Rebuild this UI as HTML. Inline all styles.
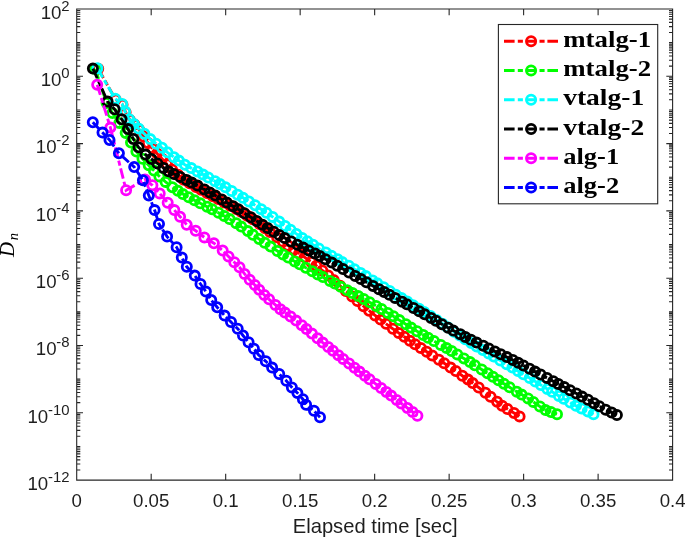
<!DOCTYPE html>
<html><head><meta charset="utf-8"><title>chart</title>
<style>html,body{margin:0;padding:0;background:#fff}svg{display:block;will-change:transform}</style></head>
<body>
<svg width="685" height="538" viewBox="0 0 685 538" style="font-family:'Liberation Sans',sans-serif">
<rect x="0" y="0" width="685" height="538" fill="#fff"/>
<g fill="none" stroke="#ff0000" stroke-width="2.8">
<path d="M98.2 68.8 L115.6 99.4 L122.5 104.8 L125.6 112.2 L129.8 119.9 L134.4 124.6 L139.0 129.6 L143.5 136.5 L148.0 143.0 L152.5 148.5 L157.0 153.5 L162.0 158.8 L167.0 164.2 L172.0 169.5 L178.0 174.8 L183.7 179.7 L189.7 183.3 L196.0 186.9 L201.1 189.7 L207.0 192.9 L212.9 196.2 L218.1 199.0 L224.3 202.4 L230.3 205.7 L236.3 209.1 L241.1 211.8 L247.2 215.8 L252.7 219.3 L259.5 223.9 L265.1 228.2 L270.0 231.9 L277.1 237.3 L282.9 241.7 L288.2 245.7 L294.0 249.8 L299.1 253.4 L304.7 257.3 L311.2 262.0 L316.3 265.7 L322.3 270.5 L328.2 275.4 L333.7 280.0 L340.1 285.8 L345.8 291.0 L352.2 296.6 L357.5 301.1 L363.5 306.2 L369.1 310.7 L375.1 315.4 L380.6 319.6 L386.1 323.8 L392.9 328.8 L398.7 332.9 L404.3 336.8 L409.9 340.7 L415.1 344.2 L420.8 347.9 L426.7 351.8 L432.2 355.4 L438.9 359.8 L444.2 363.3 L450.6 367.6 L455.8 371.0 L462.3 375.7 L468.0 379.6 L472.6 383.0 L478.7 387.5 L485.4 392.8 L490.6 396.8 L497.1 401.8 L502.1 405.7 L507.4 409.0 L514.0 413.0 L519.6 416.4" stroke-width="2.9" stroke-dasharray="10.6,3.2,5.1,2.8"/>
<path d="M93.6 68.8a4.6 4.6 0 1 0 9.2 0a4.6 4.6 0 1 0 -9.2 0M111.0 99.4a4.6 4.6 0 1 0 9.2 0a4.6 4.6 0 1 0 -9.2 0M117.9 104.8a4.6 4.6 0 1 0 9.2 0a4.6 4.6 0 1 0 -9.2 0M121.0 112.2a4.6 4.6 0 1 0 9.2 0a4.6 4.6 0 1 0 -9.2 0M125.2 119.9a4.6 4.6 0 1 0 9.2 0a4.6 4.6 0 1 0 -9.2 0M129.8 124.6a4.6 4.6 0 1 0 9.2 0a4.6 4.6 0 1 0 -9.2 0M134.4 129.6a4.6 4.6 0 1 0 9.2 0a4.6 4.6 0 1 0 -9.2 0M138.9 136.5a4.6 4.6 0 1 0 9.2 0a4.6 4.6 0 1 0 -9.2 0M143.4 143.0a4.6 4.6 0 1 0 9.2 0a4.6 4.6 0 1 0 -9.2 0M147.9 148.5a4.6 4.6 0 1 0 9.2 0a4.6 4.6 0 1 0 -9.2 0M152.4 153.5a4.6 4.6 0 1 0 9.2 0a4.6 4.6 0 1 0 -9.2 0M157.4 158.8a4.6 4.6 0 1 0 9.2 0a4.6 4.6 0 1 0 -9.2 0M162.4 164.2a4.6 4.6 0 1 0 9.2 0a4.6 4.6 0 1 0 -9.2 0M167.4 169.5a4.6 4.6 0 1 0 9.2 0a4.6 4.6 0 1 0 -9.2 0M173.4 174.8a4.6 4.6 0 1 0 9.2 0a4.6 4.6 0 1 0 -9.2 0M179.1 179.7a4.6 4.6 0 1 0 9.2 0a4.6 4.6 0 1 0 -9.2 0M185.1 183.3a4.6 4.6 0 1 0 9.2 0a4.6 4.6 0 1 0 -9.2 0M191.4 186.9a4.6 4.6 0 1 0 9.2 0a4.6 4.6 0 1 0 -9.2 0M196.5 189.7a4.6 4.6 0 1 0 9.2 0a4.6 4.6 0 1 0 -9.2 0M202.4 192.9a4.6 4.6 0 1 0 9.2 0a4.6 4.6 0 1 0 -9.2 0M208.3 196.2a4.6 4.6 0 1 0 9.2 0a4.6 4.6 0 1 0 -9.2 0M213.5 199.0a4.6 4.6 0 1 0 9.2 0a4.6 4.6 0 1 0 -9.2 0M219.7 202.4a4.6 4.6 0 1 0 9.2 0a4.6 4.6 0 1 0 -9.2 0M225.7 205.7a4.6 4.6 0 1 0 9.2 0a4.6 4.6 0 1 0 -9.2 0M231.7 209.1a4.6 4.6 0 1 0 9.2 0a4.6 4.6 0 1 0 -9.2 0M236.5 211.8a4.6 4.6 0 1 0 9.2 0a4.6 4.6 0 1 0 -9.2 0M242.6 215.8a4.6 4.6 0 1 0 9.2 0a4.6 4.6 0 1 0 -9.2 0M248.1 219.3a4.6 4.6 0 1 0 9.2 0a4.6 4.6 0 1 0 -9.2 0M254.9 223.9a4.6 4.6 0 1 0 9.2 0a4.6 4.6 0 1 0 -9.2 0M260.5 228.2a4.6 4.6 0 1 0 9.2 0a4.6 4.6 0 1 0 -9.2 0M265.4 231.9a4.6 4.6 0 1 0 9.2 0a4.6 4.6 0 1 0 -9.2 0M272.5 237.3a4.6 4.6 0 1 0 9.2 0a4.6 4.6 0 1 0 -9.2 0M278.3 241.7a4.6 4.6 0 1 0 9.2 0a4.6 4.6 0 1 0 -9.2 0M283.6 245.7a4.6 4.6 0 1 0 9.2 0a4.6 4.6 0 1 0 -9.2 0M289.4 249.8a4.6 4.6 0 1 0 9.2 0a4.6 4.6 0 1 0 -9.2 0M294.5 253.4a4.6 4.6 0 1 0 9.2 0a4.6 4.6 0 1 0 -9.2 0M300.1 257.3a4.6 4.6 0 1 0 9.2 0a4.6 4.6 0 1 0 -9.2 0M306.6 262.0a4.6 4.6 0 1 0 9.2 0a4.6 4.6 0 1 0 -9.2 0M311.7 265.7a4.6 4.6 0 1 0 9.2 0a4.6 4.6 0 1 0 -9.2 0M317.7 270.5a4.6 4.6 0 1 0 9.2 0a4.6 4.6 0 1 0 -9.2 0M323.6 275.4a4.6 4.6 0 1 0 9.2 0a4.6 4.6 0 1 0 -9.2 0M329.1 280.0a4.6 4.6 0 1 0 9.2 0a4.6 4.6 0 1 0 -9.2 0M335.5 285.8a4.6 4.6 0 1 0 9.2 0a4.6 4.6 0 1 0 -9.2 0M341.2 291.0a4.6 4.6 0 1 0 9.2 0a4.6 4.6 0 1 0 -9.2 0M347.6 296.6a4.6 4.6 0 1 0 9.2 0a4.6 4.6 0 1 0 -9.2 0M352.9 301.1a4.6 4.6 0 1 0 9.2 0a4.6 4.6 0 1 0 -9.2 0M358.9 306.2a4.6 4.6 0 1 0 9.2 0a4.6 4.6 0 1 0 -9.2 0M364.5 310.7a4.6 4.6 0 1 0 9.2 0a4.6 4.6 0 1 0 -9.2 0M370.5 315.4a4.6 4.6 0 1 0 9.2 0a4.6 4.6 0 1 0 -9.2 0M376.0 319.6a4.6 4.6 0 1 0 9.2 0a4.6 4.6 0 1 0 -9.2 0M381.5 323.8a4.6 4.6 0 1 0 9.2 0a4.6 4.6 0 1 0 -9.2 0M388.3 328.8a4.6 4.6 0 1 0 9.2 0a4.6 4.6 0 1 0 -9.2 0M394.1 332.9a4.6 4.6 0 1 0 9.2 0a4.6 4.6 0 1 0 -9.2 0M399.7 336.8a4.6 4.6 0 1 0 9.2 0a4.6 4.6 0 1 0 -9.2 0M405.3 340.7a4.6 4.6 0 1 0 9.2 0a4.6 4.6 0 1 0 -9.2 0M410.5 344.2a4.6 4.6 0 1 0 9.2 0a4.6 4.6 0 1 0 -9.2 0M416.2 347.9a4.6 4.6 0 1 0 9.2 0a4.6 4.6 0 1 0 -9.2 0M422.1 351.8a4.6 4.6 0 1 0 9.2 0a4.6 4.6 0 1 0 -9.2 0M427.6 355.4a4.6 4.6 0 1 0 9.2 0a4.6 4.6 0 1 0 -9.2 0M434.3 359.8a4.6 4.6 0 1 0 9.2 0a4.6 4.6 0 1 0 -9.2 0M439.6 363.3a4.6 4.6 0 1 0 9.2 0a4.6 4.6 0 1 0 -9.2 0M446.0 367.6a4.6 4.6 0 1 0 9.2 0a4.6 4.6 0 1 0 -9.2 0M451.2 371.0a4.6 4.6 0 1 0 9.2 0a4.6 4.6 0 1 0 -9.2 0M457.7 375.7a4.6 4.6 0 1 0 9.2 0a4.6 4.6 0 1 0 -9.2 0M463.4 379.6a4.6 4.6 0 1 0 9.2 0a4.6 4.6 0 1 0 -9.2 0M468.0 383.0a4.6 4.6 0 1 0 9.2 0a4.6 4.6 0 1 0 -9.2 0M474.1 387.5a4.6 4.6 0 1 0 9.2 0a4.6 4.6 0 1 0 -9.2 0M480.8 392.8a4.6 4.6 0 1 0 9.2 0a4.6 4.6 0 1 0 -9.2 0M486.0 396.8a4.6 4.6 0 1 0 9.2 0a4.6 4.6 0 1 0 -9.2 0M492.5 401.8a4.6 4.6 0 1 0 9.2 0a4.6 4.6 0 1 0 -9.2 0M497.5 405.7a4.6 4.6 0 1 0 9.2 0a4.6 4.6 0 1 0 -9.2 0M502.8 409.0a4.6 4.6 0 1 0 9.2 0a4.6 4.6 0 1 0 -9.2 0M509.4 413.0a4.6 4.6 0 1 0 9.2 0a4.6 4.6 0 1 0 -9.2 0M515.0 416.4a4.6 4.6 0 1 0 9.2 0a4.6 4.6 0 1 0 -9.2 0"/>
</g>
<g fill="none" stroke="#00ff00" stroke-width="2.8">
<path d="M95.2 68.9 L106.6 103.0 L112.4 113.0 L119.3 122.9 L125.7 132.9 L131.0 142.5 L136.4 151.5 L142.5 158.8 L148.7 165.2 L153.9 170.6 L159.4 176.4 L165.6 181.9 L172.3 187.2 L177.9 190.8 L182.8 194.0 L188.8 197.3 L194.5 200.3 L200.3 203.3 L207.1 206.8 L212.1 209.3 L218.5 212.8 L224.2 215.9 L229.6 219.1 L236.2 223.3 L241.2 226.6 L247.8 231.1 L252.9 234.7 L259.1 239.0 L264.7 242.7 L270.6 246.6 L277.4 251.0 L283.0 254.4 L288.2 257.5 L294.8 261.4 L299.7 264.2 L305.8 267.7 L312.3 271.3 L317.8 274.4 L322.9 277.1 L330.0 281.0 L334.8 283.5 L340.7 286.7 L347.2 290.2 L352.4 293.0 L358.2 296.1 L363.7 299.0 L369.6 302.2 L376.1 305.9 L381.5 309.0 L387.8 312.9 L393.4 316.3 L399.3 320.1 L405.9 324.3 L411.0 327.6 L417.0 331.2 L423.2 334.9 L428.1 337.7 L433.9 341.0 L440.8 344.9 L446.5 348.1 L451.6 351.0 L457.3 354.4 L463.9 358.4 L470.0 362.1 L474.8 365.2 L481.7 369.5 L487.5 373.2 L492.9 376.7 L498.5 380.3 L503.9 383.7 L509.6 387.3 L516.8 391.7 L521.6 394.6 L528.1 398.5 L533.3 401.9 L539.9 406.5 L545.5 410.1 L550.9 412.0 L557.0 414.2" stroke-width="2.9" stroke-dasharray="10.6,3.2,5.1,2.8"/>
<path d="M90.6 68.9a4.6 4.6 0 1 0 9.2 0a4.6 4.6 0 1 0 -9.2 0M102.0 103.0a4.6 4.6 0 1 0 9.2 0a4.6 4.6 0 1 0 -9.2 0M107.8 113.0a4.6 4.6 0 1 0 9.2 0a4.6 4.6 0 1 0 -9.2 0M114.7 122.9a4.6 4.6 0 1 0 9.2 0a4.6 4.6 0 1 0 -9.2 0M121.1 132.9a4.6 4.6 0 1 0 9.2 0a4.6 4.6 0 1 0 -9.2 0M126.4 142.5a4.6 4.6 0 1 0 9.2 0a4.6 4.6 0 1 0 -9.2 0M131.8 151.5a4.6 4.6 0 1 0 9.2 0a4.6 4.6 0 1 0 -9.2 0M137.9 158.8a4.6 4.6 0 1 0 9.2 0a4.6 4.6 0 1 0 -9.2 0M144.1 165.2a4.6 4.6 0 1 0 9.2 0a4.6 4.6 0 1 0 -9.2 0M149.3 170.6a4.6 4.6 0 1 0 9.2 0a4.6 4.6 0 1 0 -9.2 0M154.8 176.4a4.6 4.6 0 1 0 9.2 0a4.6 4.6 0 1 0 -9.2 0M161.0 181.9a4.6 4.6 0 1 0 9.2 0a4.6 4.6 0 1 0 -9.2 0M167.7 187.2a4.6 4.6 0 1 0 9.2 0a4.6 4.6 0 1 0 -9.2 0M173.3 190.8a4.6 4.6 0 1 0 9.2 0a4.6 4.6 0 1 0 -9.2 0M178.2 194.0a4.6 4.6 0 1 0 9.2 0a4.6 4.6 0 1 0 -9.2 0M184.2 197.3a4.6 4.6 0 1 0 9.2 0a4.6 4.6 0 1 0 -9.2 0M189.9 200.3a4.6 4.6 0 1 0 9.2 0a4.6 4.6 0 1 0 -9.2 0M195.7 203.3a4.6 4.6 0 1 0 9.2 0a4.6 4.6 0 1 0 -9.2 0M202.5 206.8a4.6 4.6 0 1 0 9.2 0a4.6 4.6 0 1 0 -9.2 0M207.5 209.3a4.6 4.6 0 1 0 9.2 0a4.6 4.6 0 1 0 -9.2 0M213.9 212.8a4.6 4.6 0 1 0 9.2 0a4.6 4.6 0 1 0 -9.2 0M219.6 215.9a4.6 4.6 0 1 0 9.2 0a4.6 4.6 0 1 0 -9.2 0M225.0 219.1a4.6 4.6 0 1 0 9.2 0a4.6 4.6 0 1 0 -9.2 0M231.6 223.3a4.6 4.6 0 1 0 9.2 0a4.6 4.6 0 1 0 -9.2 0M236.6 226.6a4.6 4.6 0 1 0 9.2 0a4.6 4.6 0 1 0 -9.2 0M243.2 231.1a4.6 4.6 0 1 0 9.2 0a4.6 4.6 0 1 0 -9.2 0M248.3 234.7a4.6 4.6 0 1 0 9.2 0a4.6 4.6 0 1 0 -9.2 0M254.5 239.0a4.6 4.6 0 1 0 9.2 0a4.6 4.6 0 1 0 -9.2 0M260.1 242.7a4.6 4.6 0 1 0 9.2 0a4.6 4.6 0 1 0 -9.2 0M266.0 246.6a4.6 4.6 0 1 0 9.2 0a4.6 4.6 0 1 0 -9.2 0M272.8 251.0a4.6 4.6 0 1 0 9.2 0a4.6 4.6 0 1 0 -9.2 0M278.4 254.4a4.6 4.6 0 1 0 9.2 0a4.6 4.6 0 1 0 -9.2 0M283.6 257.5a4.6 4.6 0 1 0 9.2 0a4.6 4.6 0 1 0 -9.2 0M290.2 261.4a4.6 4.6 0 1 0 9.2 0a4.6 4.6 0 1 0 -9.2 0M295.1 264.2a4.6 4.6 0 1 0 9.2 0a4.6 4.6 0 1 0 -9.2 0M301.2 267.7a4.6 4.6 0 1 0 9.2 0a4.6 4.6 0 1 0 -9.2 0M307.7 271.3a4.6 4.6 0 1 0 9.2 0a4.6 4.6 0 1 0 -9.2 0M313.2 274.4a4.6 4.6 0 1 0 9.2 0a4.6 4.6 0 1 0 -9.2 0M318.3 277.1a4.6 4.6 0 1 0 9.2 0a4.6 4.6 0 1 0 -9.2 0M325.4 281.0a4.6 4.6 0 1 0 9.2 0a4.6 4.6 0 1 0 -9.2 0M330.2 283.5a4.6 4.6 0 1 0 9.2 0a4.6 4.6 0 1 0 -9.2 0M336.1 286.7a4.6 4.6 0 1 0 9.2 0a4.6 4.6 0 1 0 -9.2 0M342.6 290.2a4.6 4.6 0 1 0 9.2 0a4.6 4.6 0 1 0 -9.2 0M347.8 293.0a4.6 4.6 0 1 0 9.2 0a4.6 4.6 0 1 0 -9.2 0M353.6 296.1a4.6 4.6 0 1 0 9.2 0a4.6 4.6 0 1 0 -9.2 0M359.1 299.0a4.6 4.6 0 1 0 9.2 0a4.6 4.6 0 1 0 -9.2 0M365.0 302.2a4.6 4.6 0 1 0 9.2 0a4.6 4.6 0 1 0 -9.2 0M371.5 305.9a4.6 4.6 0 1 0 9.2 0a4.6 4.6 0 1 0 -9.2 0M376.9 309.0a4.6 4.6 0 1 0 9.2 0a4.6 4.6 0 1 0 -9.2 0M383.2 312.9a4.6 4.6 0 1 0 9.2 0a4.6 4.6 0 1 0 -9.2 0M388.8 316.3a4.6 4.6 0 1 0 9.2 0a4.6 4.6 0 1 0 -9.2 0M394.7 320.1a4.6 4.6 0 1 0 9.2 0a4.6 4.6 0 1 0 -9.2 0M401.3 324.3a4.6 4.6 0 1 0 9.2 0a4.6 4.6 0 1 0 -9.2 0M406.4 327.6a4.6 4.6 0 1 0 9.2 0a4.6 4.6 0 1 0 -9.2 0M412.4 331.2a4.6 4.6 0 1 0 9.2 0a4.6 4.6 0 1 0 -9.2 0M418.6 334.9a4.6 4.6 0 1 0 9.2 0a4.6 4.6 0 1 0 -9.2 0M423.5 337.7a4.6 4.6 0 1 0 9.2 0a4.6 4.6 0 1 0 -9.2 0M429.3 341.0a4.6 4.6 0 1 0 9.2 0a4.6 4.6 0 1 0 -9.2 0M436.2 344.9a4.6 4.6 0 1 0 9.2 0a4.6 4.6 0 1 0 -9.2 0M441.9 348.1a4.6 4.6 0 1 0 9.2 0a4.6 4.6 0 1 0 -9.2 0M447.0 351.0a4.6 4.6 0 1 0 9.2 0a4.6 4.6 0 1 0 -9.2 0M452.7 354.4a4.6 4.6 0 1 0 9.2 0a4.6 4.6 0 1 0 -9.2 0M459.3 358.4a4.6 4.6 0 1 0 9.2 0a4.6 4.6 0 1 0 -9.2 0M465.4 362.1a4.6 4.6 0 1 0 9.2 0a4.6 4.6 0 1 0 -9.2 0M470.2 365.2a4.6 4.6 0 1 0 9.2 0a4.6 4.6 0 1 0 -9.2 0M477.1 369.5a4.6 4.6 0 1 0 9.2 0a4.6 4.6 0 1 0 -9.2 0M482.9 373.2a4.6 4.6 0 1 0 9.2 0a4.6 4.6 0 1 0 -9.2 0M488.3 376.7a4.6 4.6 0 1 0 9.2 0a4.6 4.6 0 1 0 -9.2 0M493.9 380.3a4.6 4.6 0 1 0 9.2 0a4.6 4.6 0 1 0 -9.2 0M499.3 383.7a4.6 4.6 0 1 0 9.2 0a4.6 4.6 0 1 0 -9.2 0M505.0 387.3a4.6 4.6 0 1 0 9.2 0a4.6 4.6 0 1 0 -9.2 0M512.2 391.7a4.6 4.6 0 1 0 9.2 0a4.6 4.6 0 1 0 -9.2 0M517.0 394.6a4.6 4.6 0 1 0 9.2 0a4.6 4.6 0 1 0 -9.2 0M523.5 398.5a4.6 4.6 0 1 0 9.2 0a4.6 4.6 0 1 0 -9.2 0M528.7 401.9a4.6 4.6 0 1 0 9.2 0a4.6 4.6 0 1 0 -9.2 0M535.3 406.5a4.6 4.6 0 1 0 9.2 0a4.6 4.6 0 1 0 -9.2 0M540.9 410.1a4.6 4.6 0 1 0 9.2 0a4.6 4.6 0 1 0 -9.2 0M546.3 412.0a4.6 4.6 0 1 0 9.2 0a4.6 4.6 0 1 0 -9.2 0M552.4 414.2a4.6 4.6 0 1 0 9.2 0a4.6 4.6 0 1 0 -9.2 0"/>
</g>
<g fill="none" stroke="#00ffff" stroke-width="2.8">
<path d="M97.4 68.3 L115.2 98.8 L122.2 104.0 L125.1 111.6 L129.2 119.2 L133.9 123.9 L138.5 128.6 L144.4 133.8 L150.2 139.1 L156.1 143.7 L162.0 147.8 L167.4 152.3 L174.0 157.2 L178.9 160.6 L184.9 164.7 L191.2 168.1 L197.5 171.4 L203.0 174.5 L208.3 177.5 L215.1 181.3 L219.9 184.1 L225.5 187.3 L231.6 191.0 L237.7 194.7 L243.0 197.8 L249.0 201.5 L255.1 205.3 L261.2 209.3 L266.4 212.7 L272.6 216.9 L279.2 221.6 L285.1 225.9 L290.5 229.8 L296.4 233.9 L302.1 237.9 L307.3 241.3 L313.0 244.8 L318.8 248.5 L325.8 252.5 L331.4 255.7 L337.6 259.3 L342.1 261.9 L348.8 265.8 L354.4 269.2 L360.6 272.9 L365.8 276.1 L372.6 280.4 L377.2 283.2 L383.6 287.2 L389.7 291.0 L395.8 294.7 L401.4 298.1 L407.2 301.6 L413.1 305.2 L419.1 308.8 L424.2 311.9 L430.5 315.9 L436.6 319.9 L442.4 323.8 L447.6 327.3 L454.0 331.7 L459.9 335.6 L465.3 339.2 L471.2 343.0 L476.7 346.4 L482.8 350.1 L488.7 353.6 L493.8 356.6 L500.4 360.5 L506.7 364.2 L512.4 367.6 L518.0 371.0 L523.4 374.2 L529.7 378.1 L535.3 381.5 L540.9 385.0 L547.3 388.9 L552.1 391.8 L558.9 395.9 L563.7 398.7 L570.3 402.6 L576.0 405.7 L581.5 408.4 L587.9 411.5 L593.5 414.2" stroke-width="2.9" stroke-dasharray="10.6,3.2,5.1,2.8"/>
<path d="M92.8 68.3a4.6 4.6 0 1 0 9.2 0a4.6 4.6 0 1 0 -9.2 0M110.6 98.8a4.6 4.6 0 1 0 9.2 0a4.6 4.6 0 1 0 -9.2 0M117.6 104.0a4.6 4.6 0 1 0 9.2 0a4.6 4.6 0 1 0 -9.2 0M120.5 111.6a4.6 4.6 0 1 0 9.2 0a4.6 4.6 0 1 0 -9.2 0M124.6 119.2a4.6 4.6 0 1 0 9.2 0a4.6 4.6 0 1 0 -9.2 0M129.3 123.9a4.6 4.6 0 1 0 9.2 0a4.6 4.6 0 1 0 -9.2 0M133.9 128.6a4.6 4.6 0 1 0 9.2 0a4.6 4.6 0 1 0 -9.2 0M139.8 133.8a4.6 4.6 0 1 0 9.2 0a4.6 4.6 0 1 0 -9.2 0M145.6 139.1a4.6 4.6 0 1 0 9.2 0a4.6 4.6 0 1 0 -9.2 0M151.5 143.7a4.6 4.6 0 1 0 9.2 0a4.6 4.6 0 1 0 -9.2 0M157.4 147.8a4.6 4.6 0 1 0 9.2 0a4.6 4.6 0 1 0 -9.2 0M162.8 152.3a4.6 4.6 0 1 0 9.2 0a4.6 4.6 0 1 0 -9.2 0M169.4 157.2a4.6 4.6 0 1 0 9.2 0a4.6 4.6 0 1 0 -9.2 0M174.3 160.6a4.6 4.6 0 1 0 9.2 0a4.6 4.6 0 1 0 -9.2 0M180.3 164.7a4.6 4.6 0 1 0 9.2 0a4.6 4.6 0 1 0 -9.2 0M186.6 168.1a4.6 4.6 0 1 0 9.2 0a4.6 4.6 0 1 0 -9.2 0M192.9 171.4a4.6 4.6 0 1 0 9.2 0a4.6 4.6 0 1 0 -9.2 0M198.4 174.5a4.6 4.6 0 1 0 9.2 0a4.6 4.6 0 1 0 -9.2 0M203.7 177.5a4.6 4.6 0 1 0 9.2 0a4.6 4.6 0 1 0 -9.2 0M210.5 181.3a4.6 4.6 0 1 0 9.2 0a4.6 4.6 0 1 0 -9.2 0M215.3 184.1a4.6 4.6 0 1 0 9.2 0a4.6 4.6 0 1 0 -9.2 0M220.9 187.3a4.6 4.6 0 1 0 9.2 0a4.6 4.6 0 1 0 -9.2 0M227.0 191.0a4.6 4.6 0 1 0 9.2 0a4.6 4.6 0 1 0 -9.2 0M233.1 194.7a4.6 4.6 0 1 0 9.2 0a4.6 4.6 0 1 0 -9.2 0M238.4 197.8a4.6 4.6 0 1 0 9.2 0a4.6 4.6 0 1 0 -9.2 0M244.4 201.5a4.6 4.6 0 1 0 9.2 0a4.6 4.6 0 1 0 -9.2 0M250.5 205.3a4.6 4.6 0 1 0 9.2 0a4.6 4.6 0 1 0 -9.2 0M256.6 209.3a4.6 4.6 0 1 0 9.2 0a4.6 4.6 0 1 0 -9.2 0M261.8 212.7a4.6 4.6 0 1 0 9.2 0a4.6 4.6 0 1 0 -9.2 0M268.0 216.9a4.6 4.6 0 1 0 9.2 0a4.6 4.6 0 1 0 -9.2 0M274.6 221.6a4.6 4.6 0 1 0 9.2 0a4.6 4.6 0 1 0 -9.2 0M280.5 225.9a4.6 4.6 0 1 0 9.2 0a4.6 4.6 0 1 0 -9.2 0M285.9 229.8a4.6 4.6 0 1 0 9.2 0a4.6 4.6 0 1 0 -9.2 0M291.8 233.9a4.6 4.6 0 1 0 9.2 0a4.6 4.6 0 1 0 -9.2 0M297.5 237.9a4.6 4.6 0 1 0 9.2 0a4.6 4.6 0 1 0 -9.2 0M302.7 241.3a4.6 4.6 0 1 0 9.2 0a4.6 4.6 0 1 0 -9.2 0M308.4 244.8a4.6 4.6 0 1 0 9.2 0a4.6 4.6 0 1 0 -9.2 0M314.2 248.5a4.6 4.6 0 1 0 9.2 0a4.6 4.6 0 1 0 -9.2 0M321.2 252.5a4.6 4.6 0 1 0 9.2 0a4.6 4.6 0 1 0 -9.2 0M326.8 255.7a4.6 4.6 0 1 0 9.2 0a4.6 4.6 0 1 0 -9.2 0M333.0 259.3a4.6 4.6 0 1 0 9.2 0a4.6 4.6 0 1 0 -9.2 0M337.5 261.9a4.6 4.6 0 1 0 9.2 0a4.6 4.6 0 1 0 -9.2 0M344.2 265.8a4.6 4.6 0 1 0 9.2 0a4.6 4.6 0 1 0 -9.2 0M349.8 269.2a4.6 4.6 0 1 0 9.2 0a4.6 4.6 0 1 0 -9.2 0M356.0 272.9a4.6 4.6 0 1 0 9.2 0a4.6 4.6 0 1 0 -9.2 0M361.2 276.1a4.6 4.6 0 1 0 9.2 0a4.6 4.6 0 1 0 -9.2 0M368.0 280.4a4.6 4.6 0 1 0 9.2 0a4.6 4.6 0 1 0 -9.2 0M372.6 283.2a4.6 4.6 0 1 0 9.2 0a4.6 4.6 0 1 0 -9.2 0M379.0 287.2a4.6 4.6 0 1 0 9.2 0a4.6 4.6 0 1 0 -9.2 0M385.1 291.0a4.6 4.6 0 1 0 9.2 0a4.6 4.6 0 1 0 -9.2 0M391.2 294.7a4.6 4.6 0 1 0 9.2 0a4.6 4.6 0 1 0 -9.2 0M396.8 298.1a4.6 4.6 0 1 0 9.2 0a4.6 4.6 0 1 0 -9.2 0M402.6 301.6a4.6 4.6 0 1 0 9.2 0a4.6 4.6 0 1 0 -9.2 0M408.5 305.2a4.6 4.6 0 1 0 9.2 0a4.6 4.6 0 1 0 -9.2 0M414.5 308.8a4.6 4.6 0 1 0 9.2 0a4.6 4.6 0 1 0 -9.2 0M419.6 311.9a4.6 4.6 0 1 0 9.2 0a4.6 4.6 0 1 0 -9.2 0M425.9 315.9a4.6 4.6 0 1 0 9.2 0a4.6 4.6 0 1 0 -9.2 0M432.0 319.9a4.6 4.6 0 1 0 9.2 0a4.6 4.6 0 1 0 -9.2 0M437.8 323.8a4.6 4.6 0 1 0 9.2 0a4.6 4.6 0 1 0 -9.2 0M443.0 327.3a4.6 4.6 0 1 0 9.2 0a4.6 4.6 0 1 0 -9.2 0M449.4 331.7a4.6 4.6 0 1 0 9.2 0a4.6 4.6 0 1 0 -9.2 0M455.3 335.6a4.6 4.6 0 1 0 9.2 0a4.6 4.6 0 1 0 -9.2 0M460.7 339.2a4.6 4.6 0 1 0 9.2 0a4.6 4.6 0 1 0 -9.2 0M466.6 343.0a4.6 4.6 0 1 0 9.2 0a4.6 4.6 0 1 0 -9.2 0M472.1 346.4a4.6 4.6 0 1 0 9.2 0a4.6 4.6 0 1 0 -9.2 0M478.2 350.1a4.6 4.6 0 1 0 9.2 0a4.6 4.6 0 1 0 -9.2 0M484.1 353.6a4.6 4.6 0 1 0 9.2 0a4.6 4.6 0 1 0 -9.2 0M489.2 356.6a4.6 4.6 0 1 0 9.2 0a4.6 4.6 0 1 0 -9.2 0M495.8 360.5a4.6 4.6 0 1 0 9.2 0a4.6 4.6 0 1 0 -9.2 0M502.1 364.2a4.6 4.6 0 1 0 9.2 0a4.6 4.6 0 1 0 -9.2 0M507.8 367.6a4.6 4.6 0 1 0 9.2 0a4.6 4.6 0 1 0 -9.2 0M513.4 371.0a4.6 4.6 0 1 0 9.2 0a4.6 4.6 0 1 0 -9.2 0M518.8 374.2a4.6 4.6 0 1 0 9.2 0a4.6 4.6 0 1 0 -9.2 0M525.1 378.1a4.6 4.6 0 1 0 9.2 0a4.6 4.6 0 1 0 -9.2 0M530.7 381.5a4.6 4.6 0 1 0 9.2 0a4.6 4.6 0 1 0 -9.2 0M536.3 385.0a4.6 4.6 0 1 0 9.2 0a4.6 4.6 0 1 0 -9.2 0M542.7 388.9a4.6 4.6 0 1 0 9.2 0a4.6 4.6 0 1 0 -9.2 0M547.5 391.8a4.6 4.6 0 1 0 9.2 0a4.6 4.6 0 1 0 -9.2 0M554.3 395.9a4.6 4.6 0 1 0 9.2 0a4.6 4.6 0 1 0 -9.2 0M559.1 398.7a4.6 4.6 0 1 0 9.2 0a4.6 4.6 0 1 0 -9.2 0M565.7 402.6a4.6 4.6 0 1 0 9.2 0a4.6 4.6 0 1 0 -9.2 0M571.4 405.7a4.6 4.6 0 1 0 9.2 0a4.6 4.6 0 1 0 -9.2 0M576.9 408.4a4.6 4.6 0 1 0 9.2 0a4.6 4.6 0 1 0 -9.2 0M583.3 411.5a4.6 4.6 0 1 0 9.2 0a4.6 4.6 0 1 0 -9.2 0M588.9 414.2a4.6 4.6 0 1 0 9.2 0a4.6 4.6 0 1 0 -9.2 0"/>
</g>
<g fill="none" stroke="#000000" stroke-width="2.8">
<path d="M92.9 68.6 L107.6 101.6 L114.6 109.3 L121.6 119.2 L128.0 129.1 L133.3 139.0 L138.5 147.2 L145.6 154.6 L151.4 159.0 L157.4 163.4 L163.6 168.0 L168.5 171.2 L174.0 174.0 L180.2 176.9 L186.6 179.9 L191.7 182.6 L197.5 185.6 L204.4 189.4 L209.8 192.4 L215.3 195.6 L221.8 199.4 L226.8 202.4 L233.1 206.2 L238.3 209.3 L244.4 213.2 L250.8 217.2 L256.7 221.0 L262.5 224.7 L267.6 228.0 L273.7 231.8 L279.2 234.9 L284.7 238.1 L291.1 241.5 L297.4 244.7 L303.2 247.6 L308.8 250.5 L315.0 253.6 L319.8 256.1 L325.5 259.2 L331.7 262.6 L337.3 265.7 L343.0 269.0 L349.1 272.5 L355.2 275.9 L360.9 279.1 L366.4 282.3 L373.0 285.9 L379.0 289.2 L384.1 291.9 L389.4 294.8 L395.1 297.9 L402.1 301.7 L406.8 304.3 L413.5 308.0 L419.2 311.2 L424.6 314.3 L431.1 318.0 L435.9 320.8 L441.8 324.2 L448.1 327.7 L453.3 330.6 L460.3 334.3 L465.3 336.9 L470.9 339.8 L476.6 342.6 L483.3 345.8 L488.8 348.5 L494.9 351.4 L500.7 354.2 L506.8 357.1 L512.8 360.0 L518.2 362.8 L523.4 365.5 L529.6 368.7 L535.0 371.6 L540.6 374.5 L547.0 377.9 L553.2 381.2 L558.3 383.9 L564.2 387.0 L570.1 390.2 L576.4 393.5 L582.0 396.6 L588.0 399.8 L594.0 403.3 L599.3 406.3 L605.7 409.7 L611.6 412.5 L616.9 415.0" stroke-width="2.9" stroke-dasharray="10.6,3.2,5.1,2.8"/>
<path d="M88.3 68.6a4.6 4.6 0 1 0 9.2 0a4.6 4.6 0 1 0 -9.2 0M103.0 101.6a4.6 4.6 0 1 0 9.2 0a4.6 4.6 0 1 0 -9.2 0M110.0 109.3a4.6 4.6 0 1 0 9.2 0a4.6 4.6 0 1 0 -9.2 0M117.0 119.2a4.6 4.6 0 1 0 9.2 0a4.6 4.6 0 1 0 -9.2 0M123.4 129.1a4.6 4.6 0 1 0 9.2 0a4.6 4.6 0 1 0 -9.2 0M128.7 139.0a4.6 4.6 0 1 0 9.2 0a4.6 4.6 0 1 0 -9.2 0M133.9 147.2a4.6 4.6 0 1 0 9.2 0a4.6 4.6 0 1 0 -9.2 0M141.0 154.6a4.6 4.6 0 1 0 9.2 0a4.6 4.6 0 1 0 -9.2 0M146.8 159.0a4.6 4.6 0 1 0 9.2 0a4.6 4.6 0 1 0 -9.2 0M152.8 163.4a4.6 4.6 0 1 0 9.2 0a4.6 4.6 0 1 0 -9.2 0M159.0 168.0a4.6 4.6 0 1 0 9.2 0a4.6 4.6 0 1 0 -9.2 0M163.9 171.2a4.6 4.6 0 1 0 9.2 0a4.6 4.6 0 1 0 -9.2 0M169.4 174.0a4.6 4.6 0 1 0 9.2 0a4.6 4.6 0 1 0 -9.2 0M175.6 176.9a4.6 4.6 0 1 0 9.2 0a4.6 4.6 0 1 0 -9.2 0M182.0 179.9a4.6 4.6 0 1 0 9.2 0a4.6 4.6 0 1 0 -9.2 0M187.1 182.6a4.6 4.6 0 1 0 9.2 0a4.6 4.6 0 1 0 -9.2 0M192.9 185.6a4.6 4.6 0 1 0 9.2 0a4.6 4.6 0 1 0 -9.2 0M199.8 189.4a4.6 4.6 0 1 0 9.2 0a4.6 4.6 0 1 0 -9.2 0M205.2 192.4a4.6 4.6 0 1 0 9.2 0a4.6 4.6 0 1 0 -9.2 0M210.7 195.6a4.6 4.6 0 1 0 9.2 0a4.6 4.6 0 1 0 -9.2 0M217.2 199.4a4.6 4.6 0 1 0 9.2 0a4.6 4.6 0 1 0 -9.2 0M222.2 202.4a4.6 4.6 0 1 0 9.2 0a4.6 4.6 0 1 0 -9.2 0M228.5 206.2a4.6 4.6 0 1 0 9.2 0a4.6 4.6 0 1 0 -9.2 0M233.7 209.3a4.6 4.6 0 1 0 9.2 0a4.6 4.6 0 1 0 -9.2 0M239.8 213.2a4.6 4.6 0 1 0 9.2 0a4.6 4.6 0 1 0 -9.2 0M246.2 217.2a4.6 4.6 0 1 0 9.2 0a4.6 4.6 0 1 0 -9.2 0M252.1 221.0a4.6 4.6 0 1 0 9.2 0a4.6 4.6 0 1 0 -9.2 0M257.9 224.7a4.6 4.6 0 1 0 9.2 0a4.6 4.6 0 1 0 -9.2 0M263.0 228.0a4.6 4.6 0 1 0 9.2 0a4.6 4.6 0 1 0 -9.2 0M269.1 231.8a4.6 4.6 0 1 0 9.2 0a4.6 4.6 0 1 0 -9.2 0M274.6 234.9a4.6 4.6 0 1 0 9.2 0a4.6 4.6 0 1 0 -9.2 0M280.1 238.1a4.6 4.6 0 1 0 9.2 0a4.6 4.6 0 1 0 -9.2 0M286.5 241.5a4.6 4.6 0 1 0 9.2 0a4.6 4.6 0 1 0 -9.2 0M292.8 244.7a4.6 4.6 0 1 0 9.2 0a4.6 4.6 0 1 0 -9.2 0M298.6 247.6a4.6 4.6 0 1 0 9.2 0a4.6 4.6 0 1 0 -9.2 0M304.2 250.5a4.6 4.6 0 1 0 9.2 0a4.6 4.6 0 1 0 -9.2 0M310.4 253.6a4.6 4.6 0 1 0 9.2 0a4.6 4.6 0 1 0 -9.2 0M315.2 256.1a4.6 4.6 0 1 0 9.2 0a4.6 4.6 0 1 0 -9.2 0M320.9 259.2a4.6 4.6 0 1 0 9.2 0a4.6 4.6 0 1 0 -9.2 0M327.1 262.6a4.6 4.6 0 1 0 9.2 0a4.6 4.6 0 1 0 -9.2 0M332.7 265.7a4.6 4.6 0 1 0 9.2 0a4.6 4.6 0 1 0 -9.2 0M338.4 269.0a4.6 4.6 0 1 0 9.2 0a4.6 4.6 0 1 0 -9.2 0M344.5 272.5a4.6 4.6 0 1 0 9.2 0a4.6 4.6 0 1 0 -9.2 0M350.6 275.9a4.6 4.6 0 1 0 9.2 0a4.6 4.6 0 1 0 -9.2 0M356.3 279.1a4.6 4.6 0 1 0 9.2 0a4.6 4.6 0 1 0 -9.2 0M361.8 282.3a4.6 4.6 0 1 0 9.2 0a4.6 4.6 0 1 0 -9.2 0M368.4 285.9a4.6 4.6 0 1 0 9.2 0a4.6 4.6 0 1 0 -9.2 0M374.4 289.2a4.6 4.6 0 1 0 9.2 0a4.6 4.6 0 1 0 -9.2 0M379.5 291.9a4.6 4.6 0 1 0 9.2 0a4.6 4.6 0 1 0 -9.2 0M384.8 294.8a4.6 4.6 0 1 0 9.2 0a4.6 4.6 0 1 0 -9.2 0M390.5 297.9a4.6 4.6 0 1 0 9.2 0a4.6 4.6 0 1 0 -9.2 0M397.5 301.7a4.6 4.6 0 1 0 9.2 0a4.6 4.6 0 1 0 -9.2 0M402.2 304.3a4.6 4.6 0 1 0 9.2 0a4.6 4.6 0 1 0 -9.2 0M408.9 308.0a4.6 4.6 0 1 0 9.2 0a4.6 4.6 0 1 0 -9.2 0M414.6 311.2a4.6 4.6 0 1 0 9.2 0a4.6 4.6 0 1 0 -9.2 0M420.0 314.3a4.6 4.6 0 1 0 9.2 0a4.6 4.6 0 1 0 -9.2 0M426.5 318.0a4.6 4.6 0 1 0 9.2 0a4.6 4.6 0 1 0 -9.2 0M431.3 320.8a4.6 4.6 0 1 0 9.2 0a4.6 4.6 0 1 0 -9.2 0M437.2 324.2a4.6 4.6 0 1 0 9.2 0a4.6 4.6 0 1 0 -9.2 0M443.5 327.7a4.6 4.6 0 1 0 9.2 0a4.6 4.6 0 1 0 -9.2 0M448.7 330.6a4.6 4.6 0 1 0 9.2 0a4.6 4.6 0 1 0 -9.2 0M455.7 334.3a4.6 4.6 0 1 0 9.2 0a4.6 4.6 0 1 0 -9.2 0M460.7 336.9a4.6 4.6 0 1 0 9.2 0a4.6 4.6 0 1 0 -9.2 0M466.3 339.8a4.6 4.6 0 1 0 9.2 0a4.6 4.6 0 1 0 -9.2 0M472.0 342.6a4.6 4.6 0 1 0 9.2 0a4.6 4.6 0 1 0 -9.2 0M478.7 345.8a4.6 4.6 0 1 0 9.2 0a4.6 4.6 0 1 0 -9.2 0M484.2 348.5a4.6 4.6 0 1 0 9.2 0a4.6 4.6 0 1 0 -9.2 0M490.3 351.4a4.6 4.6 0 1 0 9.2 0a4.6 4.6 0 1 0 -9.2 0M496.1 354.2a4.6 4.6 0 1 0 9.2 0a4.6 4.6 0 1 0 -9.2 0M502.2 357.1a4.6 4.6 0 1 0 9.2 0a4.6 4.6 0 1 0 -9.2 0M508.2 360.0a4.6 4.6 0 1 0 9.2 0a4.6 4.6 0 1 0 -9.2 0M513.6 362.8a4.6 4.6 0 1 0 9.2 0a4.6 4.6 0 1 0 -9.2 0M518.8 365.5a4.6 4.6 0 1 0 9.2 0a4.6 4.6 0 1 0 -9.2 0M525.0 368.7a4.6 4.6 0 1 0 9.2 0a4.6 4.6 0 1 0 -9.2 0M530.4 371.6a4.6 4.6 0 1 0 9.2 0a4.6 4.6 0 1 0 -9.2 0M536.0 374.5a4.6 4.6 0 1 0 9.2 0a4.6 4.6 0 1 0 -9.2 0M542.4 377.9a4.6 4.6 0 1 0 9.2 0a4.6 4.6 0 1 0 -9.2 0M548.6 381.2a4.6 4.6 0 1 0 9.2 0a4.6 4.6 0 1 0 -9.2 0M553.7 383.9a4.6 4.6 0 1 0 9.2 0a4.6 4.6 0 1 0 -9.2 0M559.6 387.0a4.6 4.6 0 1 0 9.2 0a4.6 4.6 0 1 0 -9.2 0M565.5 390.2a4.6 4.6 0 1 0 9.2 0a4.6 4.6 0 1 0 -9.2 0M571.8 393.5a4.6 4.6 0 1 0 9.2 0a4.6 4.6 0 1 0 -9.2 0M577.4 396.6a4.6 4.6 0 1 0 9.2 0a4.6 4.6 0 1 0 -9.2 0M583.4 399.8a4.6 4.6 0 1 0 9.2 0a4.6 4.6 0 1 0 -9.2 0M589.4 403.3a4.6 4.6 0 1 0 9.2 0a4.6 4.6 0 1 0 -9.2 0M594.7 406.3a4.6 4.6 0 1 0 9.2 0a4.6 4.6 0 1 0 -9.2 0M601.1 409.7a4.6 4.6 0 1 0 9.2 0a4.6 4.6 0 1 0 -9.2 0M607.0 412.5a4.6 4.6 0 1 0 9.2 0a4.6 4.6 0 1 0 -9.2 0M612.3 415.0a4.6 4.6 0 1 0 9.2 0a4.6 4.6 0 1 0 -9.2 0"/>
</g>
<g fill="none" stroke="#ff00ff" stroke-width="2.8">
<path d="M97.2 84.8 L110.4 127.6 L126.1 190.2 L145.0 179.5 L152.4 185.3 L159.7 193.4 L167.7 202.8 L174.3 210.1 L180.1 216.7 L186.7 224.7 L195.7 230.8 L204.4 237.4 L213.9 243.2 L222.7 250.5 L228.5 256.4 L234.3 262.2 L239.5 267.3 L244.6 273.9 L249.7 279.7 L254.8 284.9 L259.2 289.7 L264.3 295.0 L269.1 299.3 L275.4 304.9 L280.4 309.3 L284.9 312.5 L290.6 316.5 L296.1 320.6 L301.8 325.3 L306.4 329.0 L311.9 333.6 L317.6 338.3 L322.7 342.6 L328.2 347.0 L332.9 350.8 L338.4 355.3 L343.1 358.9 L349.1 363.5 L354.5 367.7 L359.5 371.6 L364.9 375.7 L369.5 379.2 L375.7 383.9 L381.1 388.0 L386.3 392.0 L391.1 395.6 L396.7 399.9 L401.3 403.4 L407.4 408.0 L412.6 411.9 L417.4 415.8" stroke-width="2.9" stroke-dasharray="10.6,3.2,5.1,2.8"/>
<path d="M92.6 84.8a4.6 4.6 0 1 0 9.2 0a4.6 4.6 0 1 0 -9.2 0M105.8 127.6a4.6 4.6 0 1 0 9.2 0a4.6 4.6 0 1 0 -9.2 0M121.5 190.2a4.6 4.6 0 1 0 9.2 0a4.6 4.6 0 1 0 -9.2 0M140.4 179.5a4.6 4.6 0 1 0 9.2 0a4.6 4.6 0 1 0 -9.2 0M147.8 185.3a4.6 4.6 0 1 0 9.2 0a4.6 4.6 0 1 0 -9.2 0M155.1 193.4a4.6 4.6 0 1 0 9.2 0a4.6 4.6 0 1 0 -9.2 0M163.1 202.8a4.6 4.6 0 1 0 9.2 0a4.6 4.6 0 1 0 -9.2 0M169.7 210.1a4.6 4.6 0 1 0 9.2 0a4.6 4.6 0 1 0 -9.2 0M175.5 216.7a4.6 4.6 0 1 0 9.2 0a4.6 4.6 0 1 0 -9.2 0M182.1 224.7a4.6 4.6 0 1 0 9.2 0a4.6 4.6 0 1 0 -9.2 0M191.1 230.8a4.6 4.6 0 1 0 9.2 0a4.6 4.6 0 1 0 -9.2 0M199.8 237.4a4.6 4.6 0 1 0 9.2 0a4.6 4.6 0 1 0 -9.2 0M209.3 243.2a4.6 4.6 0 1 0 9.2 0a4.6 4.6 0 1 0 -9.2 0M218.1 250.5a4.6 4.6 0 1 0 9.2 0a4.6 4.6 0 1 0 -9.2 0M223.9 256.4a4.6 4.6 0 1 0 9.2 0a4.6 4.6 0 1 0 -9.2 0M229.7 262.2a4.6 4.6 0 1 0 9.2 0a4.6 4.6 0 1 0 -9.2 0M234.9 267.3a4.6 4.6 0 1 0 9.2 0a4.6 4.6 0 1 0 -9.2 0M240.0 273.9a4.6 4.6 0 1 0 9.2 0a4.6 4.6 0 1 0 -9.2 0M245.1 279.7a4.6 4.6 0 1 0 9.2 0a4.6 4.6 0 1 0 -9.2 0M250.2 284.9a4.6 4.6 0 1 0 9.2 0a4.6 4.6 0 1 0 -9.2 0M254.6 289.7a4.6 4.6 0 1 0 9.2 0a4.6 4.6 0 1 0 -9.2 0M259.7 295.0a4.6 4.6 0 1 0 9.2 0a4.6 4.6 0 1 0 -9.2 0M264.5 299.3a4.6 4.6 0 1 0 9.2 0a4.6 4.6 0 1 0 -9.2 0M270.8 304.9a4.6 4.6 0 1 0 9.2 0a4.6 4.6 0 1 0 -9.2 0M275.8 309.3a4.6 4.6 0 1 0 9.2 0a4.6 4.6 0 1 0 -9.2 0M280.3 312.5a4.6 4.6 0 1 0 9.2 0a4.6 4.6 0 1 0 -9.2 0M286.0 316.5a4.6 4.6 0 1 0 9.2 0a4.6 4.6 0 1 0 -9.2 0M291.5 320.6a4.6 4.6 0 1 0 9.2 0a4.6 4.6 0 1 0 -9.2 0M297.2 325.3a4.6 4.6 0 1 0 9.2 0a4.6 4.6 0 1 0 -9.2 0M301.8 329.0a4.6 4.6 0 1 0 9.2 0a4.6 4.6 0 1 0 -9.2 0M307.3 333.6a4.6 4.6 0 1 0 9.2 0a4.6 4.6 0 1 0 -9.2 0M313.0 338.3a4.6 4.6 0 1 0 9.2 0a4.6 4.6 0 1 0 -9.2 0M318.1 342.6a4.6 4.6 0 1 0 9.2 0a4.6 4.6 0 1 0 -9.2 0M323.6 347.0a4.6 4.6 0 1 0 9.2 0a4.6 4.6 0 1 0 -9.2 0M328.3 350.8a4.6 4.6 0 1 0 9.2 0a4.6 4.6 0 1 0 -9.2 0M333.8 355.3a4.6 4.6 0 1 0 9.2 0a4.6 4.6 0 1 0 -9.2 0M338.5 358.9a4.6 4.6 0 1 0 9.2 0a4.6 4.6 0 1 0 -9.2 0M344.5 363.5a4.6 4.6 0 1 0 9.2 0a4.6 4.6 0 1 0 -9.2 0M349.9 367.7a4.6 4.6 0 1 0 9.2 0a4.6 4.6 0 1 0 -9.2 0M354.9 371.6a4.6 4.6 0 1 0 9.2 0a4.6 4.6 0 1 0 -9.2 0M360.3 375.7a4.6 4.6 0 1 0 9.2 0a4.6 4.6 0 1 0 -9.2 0M364.9 379.2a4.6 4.6 0 1 0 9.2 0a4.6 4.6 0 1 0 -9.2 0M371.1 383.9a4.6 4.6 0 1 0 9.2 0a4.6 4.6 0 1 0 -9.2 0M376.5 388.0a4.6 4.6 0 1 0 9.2 0a4.6 4.6 0 1 0 -9.2 0M381.7 392.0a4.6 4.6 0 1 0 9.2 0a4.6 4.6 0 1 0 -9.2 0M386.5 395.6a4.6 4.6 0 1 0 9.2 0a4.6 4.6 0 1 0 -9.2 0M392.1 399.9a4.6 4.6 0 1 0 9.2 0a4.6 4.6 0 1 0 -9.2 0M396.7 403.4a4.6 4.6 0 1 0 9.2 0a4.6 4.6 0 1 0 -9.2 0M402.8 408.0a4.6 4.6 0 1 0 9.2 0a4.6 4.6 0 1 0 -9.2 0M408.0 411.9a4.6 4.6 0 1 0 9.2 0a4.6 4.6 0 1 0 -9.2 0M412.8 415.8a4.6 4.6 0 1 0 9.2 0a4.6 4.6 0 1 0 -9.2 0"/>
</g>
<g fill="none" stroke="#0000ff" stroke-width="2.8">
<path d="M92.8 122.3 L102.5 132.6 L109.5 140.0 L118.9 153.3 L134.2 167.0 L142.9 180.2 L148.8 195.5 L154.6 210.1 L159.0 224.0 L167.1 236.6 L176.6 247.2 L181.8 257.5 L186.8 266.8 L194.8 275.6 L200.5 284.0 L205.9 291.6 L211.2 300.0 L217.2 307.2 L224.6 315.6 L231.0 322.0 L237.7 328.7 L243.0 335.5 L248.6 342.2 L253.9 348.7 L258.7 355.0 L265.8 361.3 L272.1 367.6 L279.2 374.0 L286.3 380.8 L291.9 387.4 L297.4 392.9 L302.9 399.2 L306.1 404.8 L314.0 410.8 L320.0 417.3" stroke-width="2.9" stroke-dasharray="10.6,3.2,5.1,2.8"/>
<path d="M88.2 122.3a4.6 4.6 0 1 0 9.2 0a4.6 4.6 0 1 0 -9.2 0M97.9 132.6a4.6 4.6 0 1 0 9.2 0a4.6 4.6 0 1 0 -9.2 0M104.9 140.0a4.6 4.6 0 1 0 9.2 0a4.6 4.6 0 1 0 -9.2 0M114.3 153.3a4.6 4.6 0 1 0 9.2 0a4.6 4.6 0 1 0 -9.2 0M129.6 167.0a4.6 4.6 0 1 0 9.2 0a4.6 4.6 0 1 0 -9.2 0M138.3 180.2a4.6 4.6 0 1 0 9.2 0a4.6 4.6 0 1 0 -9.2 0M144.2 195.5a4.6 4.6 0 1 0 9.2 0a4.6 4.6 0 1 0 -9.2 0M150.0 210.1a4.6 4.6 0 1 0 9.2 0a4.6 4.6 0 1 0 -9.2 0M154.4 224.0a4.6 4.6 0 1 0 9.2 0a4.6 4.6 0 1 0 -9.2 0M162.5 236.6a4.6 4.6 0 1 0 9.2 0a4.6 4.6 0 1 0 -9.2 0M172.0 247.2a4.6 4.6 0 1 0 9.2 0a4.6 4.6 0 1 0 -9.2 0M177.2 257.5a4.6 4.6 0 1 0 9.2 0a4.6 4.6 0 1 0 -9.2 0M182.2 266.8a4.6 4.6 0 1 0 9.2 0a4.6 4.6 0 1 0 -9.2 0M190.2 275.6a4.6 4.6 0 1 0 9.2 0a4.6 4.6 0 1 0 -9.2 0M195.9 284.0a4.6 4.6 0 1 0 9.2 0a4.6 4.6 0 1 0 -9.2 0M201.3 291.6a4.6 4.6 0 1 0 9.2 0a4.6 4.6 0 1 0 -9.2 0M206.6 300.0a4.6 4.6 0 1 0 9.2 0a4.6 4.6 0 1 0 -9.2 0M212.6 307.2a4.6 4.6 0 1 0 9.2 0a4.6 4.6 0 1 0 -9.2 0M220.0 315.6a4.6 4.6 0 1 0 9.2 0a4.6 4.6 0 1 0 -9.2 0M226.4 322.0a4.6 4.6 0 1 0 9.2 0a4.6 4.6 0 1 0 -9.2 0M233.1 328.7a4.6 4.6 0 1 0 9.2 0a4.6 4.6 0 1 0 -9.2 0M238.4 335.5a4.6 4.6 0 1 0 9.2 0a4.6 4.6 0 1 0 -9.2 0M244.0 342.2a4.6 4.6 0 1 0 9.2 0a4.6 4.6 0 1 0 -9.2 0M249.3 348.7a4.6 4.6 0 1 0 9.2 0a4.6 4.6 0 1 0 -9.2 0M254.1 355.0a4.6 4.6 0 1 0 9.2 0a4.6 4.6 0 1 0 -9.2 0M261.2 361.3a4.6 4.6 0 1 0 9.2 0a4.6 4.6 0 1 0 -9.2 0M267.5 367.6a4.6 4.6 0 1 0 9.2 0a4.6 4.6 0 1 0 -9.2 0M274.6 374.0a4.6 4.6 0 1 0 9.2 0a4.6 4.6 0 1 0 -9.2 0M281.7 380.8a4.6 4.6 0 1 0 9.2 0a4.6 4.6 0 1 0 -9.2 0M287.3 387.4a4.6 4.6 0 1 0 9.2 0a4.6 4.6 0 1 0 -9.2 0M292.8 392.9a4.6 4.6 0 1 0 9.2 0a4.6 4.6 0 1 0 -9.2 0M298.3 399.2a4.6 4.6 0 1 0 9.2 0a4.6 4.6 0 1 0 -9.2 0M301.5 404.8a4.6 4.6 0 1 0 9.2 0a4.6 4.6 0 1 0 -9.2 0M309.4 410.8a4.6 4.6 0 1 0 9.2 0a4.6 4.6 0 1 0 -9.2 0M315.4 417.3a4.6 4.6 0 1 0 9.2 0a4.6 4.6 0 1 0 -9.2 0"/>
</g>
<path d="M76.7 9H672.6V480.1H76.7ZM151.19 480.1v-6.3M151.19 9v6.3M225.68 480.1v-6.3M225.68 9v6.3M300.16 480.1v-6.3M300.16 9v6.3M374.65 480.1v-6.3M374.65 9v6.3M449.14 480.1v-6.3M449.14 9v6.3M523.62 480.1v-6.3M523.62 9v6.3M598.11 480.1v-6.3M598.11 9v6.3M76.7 32.52h3.6M672.6 32.52h-3.6M76.7 26.59h3.6M672.6 26.59h-3.6M76.7 22.39h3.6M672.6 22.39h-3.6M76.7 19.13h3.6M672.6 19.13h-3.6M76.7 16.47h3.6M672.6 16.47h-3.6M76.7 14.21h3.6M672.6 14.21h-3.6M76.7 12.26h3.6M672.6 12.26h-3.6M76.7 10.54h3.6M672.6 10.54h-3.6M76.7 42.65h3.6 M672.6 42.65h-3.6M76.7 66.17h3.6M672.6 66.17h-3.6M76.7 60.24h3.6M672.6 60.24h-3.6M76.7 56.04h3.6M672.6 56.04h-3.6M76.7 52.78h3.6M672.6 52.78h-3.6M76.7 50.12h3.6M672.6 50.12h-3.6M76.7 47.86h3.6M672.6 47.86h-3.6M76.7 45.91h3.6M672.6 45.91h-3.6M76.7 44.19h3.6M672.6 44.19h-3.6M76.7 76.3h6.3 M672.6 76.3h-6.3M76.7 99.82h3.6M672.6 99.82h-3.6M76.7 93.89h3.6M672.6 93.89h-3.6M76.7 89.69h3.6M672.6 89.69h-3.6M76.7 86.43h3.6M672.6 86.43h-3.6M76.7 83.77h3.6M672.6 83.77h-3.6M76.7 81.51h3.6M672.6 81.51h-3.6M76.7 79.56h3.6M672.6 79.56h-3.6M76.7 77.84h3.6M672.6 77.84h-3.6M76.7 109.95h3.6 M672.6 109.95h-3.6M76.7 133.47h3.6M672.6 133.47h-3.6M76.7 127.54h3.6M672.6 127.54h-3.6M76.7 123.34h3.6M672.6 123.34h-3.6M76.7 120.08h3.6M672.6 120.08h-3.6M76.7 117.42h3.6M672.6 117.42h-3.6M76.7 115.16h3.6M672.6 115.16h-3.6M76.7 113.21h3.6M672.6 113.21h-3.6M76.7 111.49h3.6M672.6 111.49h-3.6M76.7 143.6h6.3 M672.6 143.6h-6.3M76.7 167.12h3.6M672.6 167.12h-3.6M76.7 161.19h3.6M672.6 161.19h-3.6M76.7 156.99h3.6M672.6 156.99h-3.6M76.7 153.73h3.6M672.6 153.73h-3.6M76.7 151.07h3.6M672.6 151.07h-3.6M76.7 148.81h3.6M672.6 148.81h-3.6M76.7 146.86h3.6M672.6 146.86h-3.6M76.7 145.14h3.6M672.6 145.14h-3.6M76.7 177.25h3.6 M672.6 177.25h-3.6M76.7 200.77h3.6M672.6 200.77h-3.6M76.7 194.84h3.6M672.6 194.84h-3.6M76.7 190.64h3.6M672.6 190.64h-3.6M76.7 187.38h3.6M672.6 187.38h-3.6M76.7 184.72h3.6M672.6 184.72h-3.6M76.7 182.46h3.6M672.6 182.46h-3.6M76.7 180.51h3.6M672.6 180.51h-3.6M76.7 178.79h3.6M672.6 178.79h-3.6M76.7 210.9h6.3 M672.6 210.9h-6.3M76.7 234.42h3.6M672.6 234.42h-3.6M76.7 228.49h3.6M672.6 228.49h-3.6M76.7 224.29h3.6M672.6 224.29h-3.6M76.7 221.03h3.6M672.6 221.03h-3.6M76.7 218.37h3.6M672.6 218.37h-3.6M76.7 216.11h3.6M672.6 216.11h-3.6M76.7 214.16h3.6M672.6 214.16h-3.6M76.7 212.44h3.6M672.6 212.44h-3.6M76.7 244.55h3.6 M672.6 244.55h-3.6M76.7 268.07h3.6M672.6 268.07h-3.6M76.7 262.14h3.6M672.6 262.14h-3.6M76.7 257.94h3.6M672.6 257.94h-3.6M76.7 254.68h3.6M672.6 254.68h-3.6M76.7 252.02h3.6M672.6 252.02h-3.6M76.7 249.76h3.6M672.6 249.76h-3.6M76.7 247.81h3.6M672.6 247.81h-3.6M76.7 246.09h3.6M672.6 246.09h-3.6M76.7 278.2h6.3 M672.6 278.2h-6.3M76.7 301.72h3.6M672.6 301.72h-3.6M76.7 295.79h3.6M672.6 295.79h-3.6M76.7 291.59h3.6M672.6 291.59h-3.6M76.7 288.33h3.6M672.6 288.33h-3.6M76.7 285.67h3.6M672.6 285.67h-3.6M76.7 283.41h3.6M672.6 283.41h-3.6M76.7 281.46h3.6M672.6 281.46h-3.6M76.7 279.74h3.6M672.6 279.74h-3.6M76.7 311.85h3.6 M672.6 311.85h-3.6M76.7 335.37h3.6M672.6 335.37h-3.6M76.7 329.44h3.6M672.6 329.44h-3.6M76.7 325.24h3.6M672.6 325.24h-3.6M76.7 321.98h3.6M672.6 321.98h-3.6M76.7 319.32h3.6M672.6 319.32h-3.6M76.7 317.06h3.6M672.6 317.06h-3.6M76.7 315.11h3.6M672.6 315.11h-3.6M76.7 313.39h3.6M672.6 313.39h-3.6M76.7 345.5h6.3 M672.6 345.5h-6.3M76.7 369.02h3.6M672.6 369.02h-3.6M76.7 363.09h3.6M672.6 363.09h-3.6M76.7 358.89h3.6M672.6 358.89h-3.6M76.7 355.63h3.6M672.6 355.63h-3.6M76.7 352.97h3.6M672.6 352.97h-3.6M76.7 350.71h3.6M672.6 350.71h-3.6M76.7 348.76h3.6M672.6 348.76h-3.6M76.7 347.04h3.6M672.6 347.04h-3.6M76.7 379.15h3.6 M672.6 379.15h-3.6M76.7 402.67h3.6M672.6 402.67h-3.6M76.7 396.74h3.6M672.6 396.74h-3.6M76.7 392.54h3.6M672.6 392.54h-3.6M76.7 389.28h3.6M672.6 389.28h-3.6M76.7 386.62h3.6M672.6 386.62h-3.6M76.7 384.36h3.6M672.6 384.36h-3.6M76.7 382.41h3.6M672.6 382.41h-3.6M76.7 380.69h3.6M672.6 380.69h-3.6M76.7 412.8h6.3 M672.6 412.8h-6.3M76.7 436.32h3.6M672.6 436.32h-3.6M76.7 430.39h3.6M672.6 430.39h-3.6M76.7 426.19h3.6M672.6 426.19h-3.6M76.7 422.93h3.6M672.6 422.93h-3.6M76.7 420.27h3.6M672.6 420.27h-3.6M76.7 418.01h3.6M672.6 418.01h-3.6M76.7 416.06h3.6M672.6 416.06h-3.6M76.7 414.34h3.6M672.6 414.34h-3.6M76.7 446.45h3.6 M672.6 446.45h-3.6M76.7 469.97h3.6M672.6 469.97h-3.6M76.7 464.04h3.6M672.6 464.04h-3.6M76.7 459.84h3.6M672.6 459.84h-3.6M76.7 456.58h3.6M672.6 456.58h-3.6M76.7 453.92h3.6M672.6 453.92h-3.6M76.7 451.66h3.6M672.6 451.66h-3.6M76.7 449.71h3.6M672.6 449.71h-3.6M76.7 447.99h3.6M672.6 447.99h-3.6" fill="none" stroke="#262626" stroke-width="1.1"/>
<text x="76.7" y="507" font-size="18.67" text-anchor="middle" fill="#1e1e1e">0</text>
<text x="151.19" y="507" font-size="18.67" text-anchor="middle" fill="#1e1e1e">0.05</text>
<text x="225.68" y="507" font-size="18.67" text-anchor="middle" fill="#1e1e1e">0.1</text>
<text x="300.16" y="507" font-size="18.67" text-anchor="middle" fill="#1e1e1e">0.15</text>
<text x="374.65" y="507" font-size="18.67" text-anchor="middle" fill="#1e1e1e">0.2</text>
<text x="449.14" y="507" font-size="18.67" text-anchor="middle" fill="#1e1e1e">0.25</text>
<text x="523.62" y="507" font-size="18.67" text-anchor="middle" fill="#1e1e1e">0.3</text>
<text x="598.11" y="507" font-size="18.67" text-anchor="middle" fill="#1e1e1e">0.35</text>
<text x="672.6" y="507" font-size="18.67" text-anchor="middle" fill="#1e1e1e">0.4</text>
<text x="69.6" y="10.7" font-size="14.9" text-anchor="end" fill="#1e1e1e">2</text>
<text x="61.51" y="18.8" font-size="18.67" text-anchor="end" fill="#1e1e1e">10</text>
<text x="69.6" y="78" font-size="14.9" text-anchor="end" fill="#1e1e1e">0</text>
<text x="61.51" y="86.1" font-size="18.67" text-anchor="end" fill="#1e1e1e">10</text>
<text x="69.6" y="145.3" font-size="14.9" text-anchor="end" fill="#1e1e1e">-2</text>
<text x="56.55" y="153.4" font-size="18.67" text-anchor="end" fill="#1e1e1e">10</text>
<text x="69.6" y="212.6" font-size="14.9" text-anchor="end" fill="#1e1e1e">-4</text>
<text x="56.55" y="220.7" font-size="18.67" text-anchor="end" fill="#1e1e1e">10</text>
<text x="69.6" y="279.9" font-size="14.9" text-anchor="end" fill="#1e1e1e">-6</text>
<text x="56.55" y="288" font-size="18.67" text-anchor="end" fill="#1e1e1e">10</text>
<text x="69.6" y="347.2" font-size="14.9" text-anchor="end" fill="#1e1e1e">-8</text>
<text x="56.55" y="355.3" font-size="18.67" text-anchor="end" fill="#1e1e1e">10</text>
<text x="69.6" y="414.5" font-size="14.9" text-anchor="end" fill="#1e1e1e">-10</text>
<text x="48.26" y="422.6" font-size="18.67" text-anchor="end" fill="#1e1e1e">10</text>
<text x="69.6" y="481.8" font-size="14.9" text-anchor="end" fill="#1e1e1e">-12</text>
<text x="48.26" y="489.9" font-size="18.67" text-anchor="end" fill="#1e1e1e">10</text>
<text x="375.2" y="532.6" font-size="20.2" text-anchor="middle" fill="#1e1e1e">Elapsed time [sec]</text>
<g transform="translate(13.6,256.9) rotate(-90)" style="font-family:'Liberation Serif',serif" fill="#000"><text x="0" y="0" font-size="20.8" font-style="italic">D<tspan font-size="14.5" dy="4" dx="1.6">n</tspan></text></g>
<rect x="498.4" y="24.5" width="159.3" height="179.3" fill="#fff" stroke="#262626" stroke-width="1.1"/>
<path d="M504 41.3 H558.6" stroke="#ff0000" stroke-width="2.9" fill="none" stroke-dasharray="10.6,3.2,5.1,2.8"/>
<circle cx="531.1" cy="41.3" r="4.6" fill="none" stroke="#ff0000" stroke-width="2.8"/>
<text x="563.2" y="47" font-size="22.3" font-weight="bold" fill="#000" style="font-family:'Liberation Serif',serif" textLength="88" lengthAdjust="spacingAndGlyphs">mtalg-1</text>
<path d="M504 70.53 H558.6" stroke="#00ff00" stroke-width="2.9" fill="none" stroke-dasharray="10.6,3.2,5.1,2.8"/>
<circle cx="531.1" cy="70.53" r="4.6" fill="none" stroke="#00ff00" stroke-width="2.8"/>
<text x="563.2" y="76.23" font-size="22.3" font-weight="bold" fill="#000" style="font-family:'Liberation Serif',serif" textLength="88" lengthAdjust="spacingAndGlyphs">mtalg-2</text>
<path d="M504 99.76 H558.6" stroke="#00ffff" stroke-width="2.9" fill="none" stroke-dasharray="10.6,3.2,5.1,2.8"/>
<circle cx="531.1" cy="99.76" r="4.6" fill="none" stroke="#00ffff" stroke-width="2.8"/>
<text x="563.2" y="105.46" font-size="22.3" font-weight="bold" fill="#000" style="font-family:'Liberation Serif',serif" textLength="81" lengthAdjust="spacingAndGlyphs">vtalg-1</text>
<path d="M504 128.99 H558.6" stroke="#000000" stroke-width="2.9" fill="none" stroke-dasharray="10.6,3.2,5.1,2.8"/>
<circle cx="531.1" cy="128.99" r="4.6" fill="none" stroke="#000000" stroke-width="2.8"/>
<text x="563.2" y="134.69" font-size="22.3" font-weight="bold" fill="#000" style="font-family:'Liberation Serif',serif" textLength="81" lengthAdjust="spacingAndGlyphs">vtalg-2</text>
<path d="M504 158.22 H558.6" stroke="#ff00ff" stroke-width="2.9" fill="none" stroke-dasharray="10.6,3.2,5.1,2.8"/>
<circle cx="531.1" cy="158.22" r="4.6" fill="none" stroke="#ff00ff" stroke-width="2.8"/>
<text x="563.2" y="163.92" font-size="22.3" font-weight="bold" fill="#000" style="font-family:'Liberation Serif',serif" textLength="56" lengthAdjust="spacingAndGlyphs">alg-1</text>
<path d="M504 187.45 H558.6" stroke="#0000ff" stroke-width="2.9" fill="none" stroke-dasharray="10.6,3.2,5.1,2.8"/>
<circle cx="531.1" cy="187.45" r="4.6" fill="none" stroke="#0000ff" stroke-width="2.8"/>
<text x="563.2" y="193.15" font-size="22.3" font-weight="bold" fill="#000" style="font-family:'Liberation Serif',serif" textLength="56" lengthAdjust="spacingAndGlyphs">alg-2</text>
</svg></body></html>
